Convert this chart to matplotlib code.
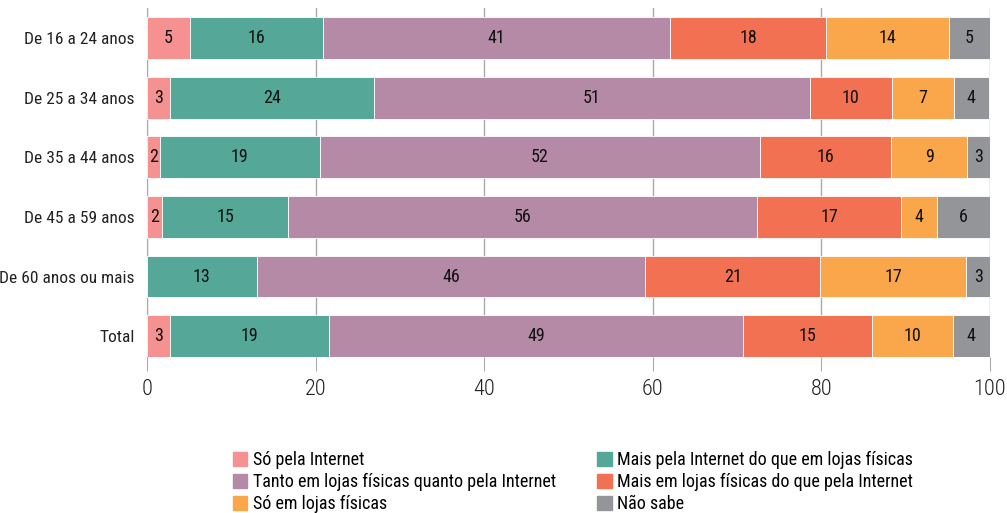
import numpy as np
import matplotlib
matplotlib.use("Agg")
import matplotlib.pyplot as plt
from matplotlib.patches import Patch

plt.rcParams['font.family'] = ['Roboto Condensed', 'Archivo Narrow',
                               'Liberation Sans', 'DejaVu Sans']

groups = ["De 16 a 24 anos", "De 25 a 34 anos", "De 35 a 44 anos",
          "De 45 a 59 anos", "De 60 anos ou mais", "Total"]

series = ["Só pela Internet",
          "Mais pela Internet do que em lojas físicas",
          "Tanto em lojas físicas quanto pela Internet",
          "Mais em lojas físicas do que pela Internet",
          "Só em lojas físicas",
          "Não sabe"]

so_internet = [5.1, 2.7, 1.5, 1.8, 0.0, 2.7]
mais_internet = [15.8, 24.2, 19.0, 14.9, 13.0, 18.9]
tanto = [41.2, 51.7, 52.2, 55.7, 46.1, 49.1]
mais_lojas = [18.4, 9.8, 15.6, 17.1, 20.8, 15.3]
so_lojas = [14.6, 7.3, 9.0, 4.2, 17.3, 9.6]
nao_sabe = [4.9, 4.2, 2.7, 6.3, 2.8, 4.4]

labels = [
    ["5", "3", "2", "2", "", "3"],
    ["16", "24", "19", "15", "13", "19"],
    ["41", "51", "52", "56", "46", "49"],
    ["18", "10", "16", "17", "21", "15"],
    ["14", "7", "9", "4", "17", "10"],
    ["5", "4", "3", "6", "3", "4"],
]

colors = ["#F59191", "#55A797", "#B48AA7", "#F37153", "#F9A74A", "#949598"]

data = [so_internet, mais_internet, tanto, mais_lojas, so_lojas, nao_sabe]

fig = plt.figure(figsize=(10.07, 5.13), dpi=100)
ax = fig.add_axes([0.146, 0.304, 0.837, 0.680])

y = np.arange(len(groups))
left = np.zeros(len(groups))
for vals, col, labs in zip(data, colors, labels):
    vals = np.array(vals)
    ax.barh(y, vals, left=left, height=0.7, color=col, edgecolor="white",
            linewidth=0.6, zorder=3)
    for i, (v, lab) in enumerate(zip(vals, labs)):
        if lab:
            ax.text(left[i] + v / 2, y[i], lab, ha="center", va="center",
                    fontsize=13, color="#111111", zorder=4)
    left += vals

ax.set_xlim(0, 100)
ax.set_ylim(5.35, -0.5)
ax.set_yticks(y)
ax.set_yticklabels(groups, fontsize=12.5, color="#222222")
ax.set_xticks([0, 20, 40, 60, 80, 100])
ax.tick_params(axis="y", length=0, pad=9)
ax.tick_params(axis="x", length=10, color="#aaaaaa", labelsize=16,
               labelcolor="#222222", pad=6)
for t in ax.get_xticklabels():
    t.set_fontweight("light")

for s in ["top", "right", "bottom"]:
    ax.spines[s].set_visible(False)
ax.spines["left"].set_color("#aaaaaa")
ax.grid(axis="x", color="#aaaaaa", linewidth=1, zorder=0)

handles = [Patch(color=c) for c in colors]
order = [0, 2, 4, 1, 3, 5]
leg = fig.legend([handles[i] for i in order], [series[i] for i in order],
                 ncol=2, loc="lower left", bbox_to_anchor=(0.215, -0.032),
                 frameon=False, fontsize=13, handlelength=0.8,
                 handleheight=0.8, handletextpad=0.3, labelspacing=0.22,
                 columnspacing=2.3)

fig.savefig("out.png", dpi=100)
